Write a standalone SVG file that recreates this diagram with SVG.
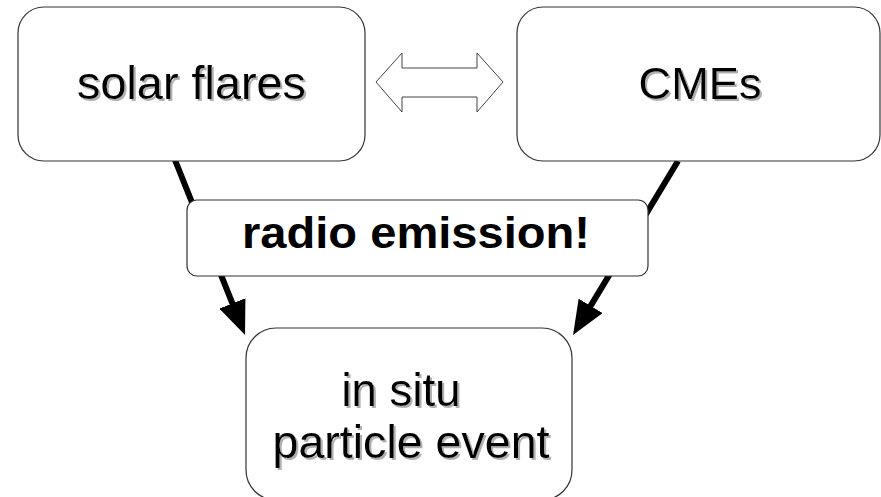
<svg xmlns="http://www.w3.org/2000/svg" width="881" height="497" viewBox="0 0 881 497">
<style>
.box{fill:#fff;stroke:#333;stroke-width:1.2}
.lbl{font-family:"Liberation Sans",Arial,sans-serif;fill:#000;text-anchor:middle}
.sh{filter:url(#shadow)}
.con{stroke:#000;stroke-width:6;fill:none}
</style>
<defs>
<filter id="shadow" x="-10%" y="-20%" width="130%" height="150%">
<feOffset in="SourceAlpha" dx="2" dy="2" result="o"/>
<feFlood flood-color="#b0b0b0"/>
<feComposite in2="o" operator="in" result="s"/>
<feMerge><feMergeNode in="s"/><feMergeNode in="SourceGraphic"/></feMerge>
</filter>
<marker id="ah" markerUnits="userSpaceOnUse" viewBox="0 0 34 28" refX="14" refY="14" markerWidth="34" markerHeight="28" orient="auto">
<path d="M0,0 L34,14 L0,28 Z" fill="#000"/>
</marker>
</defs>
<rect width="881" height="497" fill="#fff"/>
<g id="connectors">
<line class="con" x1="175" y1="160" x2="237.6" y2="316.4" marker-end="url(#ah)"/>
<line class="con" x1="678" y1="161" x2="583.4" y2="317.9" marker-end="url(#ah)"/>
<polygon id="double-arrow" points="376,82 402,53 402,68 477,68 477,53 503,82 477,112 477,97 402,97 402,112" fill="#fff" stroke="#444" stroke-width="1"/>
</g>
<g id="solar-flares">
<rect class="box" x="18" y="7" width="347" height="154" rx="26"/>
<text class="lbl sh" x="191.5" y="99" font-size="46.5" textLength="229" lengthAdjust="spacingAndGlyphs">solar flares</text>
</g>
<g id="cmes">
<rect class="box" x="517" y="7" width="363" height="154" rx="26"/>
<text class="lbl sh" x="700" y="99" font-size="45" textLength="123" lengthAdjust="spacingAndGlyphs">CMEs</text>
</g>
<g id="radio-emission">
<rect class="box" x="187" y="200" width="461" height="76" rx="10"/>
<text class="lbl" x="416" y="248" font-size="44" font-weight="bold" textLength="348" lengthAdjust="spacingAndGlyphs">radio emission!</text>
</g>
<g id="in-situ">
<rect class="box" x="246" y="328" width="326" height="172" rx="30"/>
<text class="lbl sh" x="401" y="406" font-size="47" textLength="119" lengthAdjust="spacingAndGlyphs">in situ</text>
<text class="lbl sh" x="411" y="458" font-size="47" textLength="277" lengthAdjust="spacingAndGlyphs">particle event</text>
</g>
</svg>
